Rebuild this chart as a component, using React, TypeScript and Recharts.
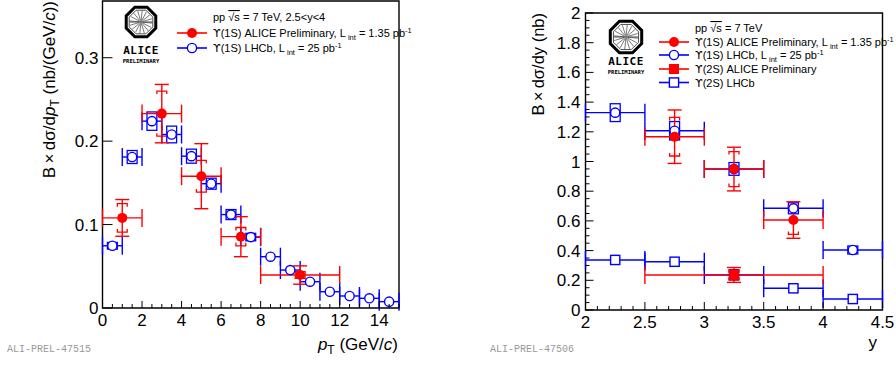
import React from 'react';
import { ComposedChart, Scatter, XAxis, YAxis, ErrorBar, ReferenceArea } from 'recharts';

const RED = '#ff0000';
const BLUE = '#0000ff';
const FONT = '"Liberation Sans", Arial, Helvetica, sans-serif';

// ---------- Left panel: pT spectrum ----------
const ptAliceX = [1, 3, 5, 7, 10];
const ptAliceY = [0.108, 0.233, 0.158, 0.0855, 0.0395];
const ptAliceXErr = [1, 1, 1, 1, 2];
const ptAliceStat = [0.022, 0.035, 0.039, 0.024, 0.011];
const ptAliceSyst = [0.017, 0.027, 0.019, 0.011, 0.004];

const ptLhcbX = [0.5, 1.5, 2.5, 3.5, 4.5, 5.5, 6.5, 7.5, 8.5, 9.5, 10.5, 11.5, 12.5, 13.5, 14.5];
const ptLhcbY = [0.0746, 0.181, 0.224, 0.208, 0.182, 0.149, 0.112, 0.085, 0.0615, 0.0455, 0.0315, 0.0195, 0.0144, 0.0116, 0.0076];
const ptLhcbXErr = [0.5, 0.5, 0.5, 0.5, 0.5, 0.5, 0.5, 0.5, 0.5, 0.5, 0.5, 0.5, 0.5, 0.5, 0.5];
const ptLhcbSyst = [0.004, 0.0078, 0.011, 0.01, 0.0084, 0.0066, 0.006, 0.0045, 0, 0, 0, 0, 0, 0, 0];

const ptMajorTicks = [0, 2, 4, 6, 8, 10, 12, 14];
const ptYMajorTicks = [0, 0.1, 0.2, 0.3];

// ---------- Right panel: rapidity ----------
const yAlice1sX = [2.75, 3.25, 3.75];
const yAlice1sY = [1.167, 0.949, 0.606];
const yAlice1sXErr = [0.25, 0.25, 0.25];
const yAlice1sStat = [0.18, 0.147, 0.123];
const yAlice1sSyst = [0.13, 0.118, 0.097];

const yLhcb1sX = [2.25, 2.75, 3.25, 3.75, 4.25];
const yLhcb1sY = [1.329, 1.207, 0.95, 0.685, 0.404];
const yLhcb1sXErr = [0.25, 0.25, 0.25, 0.25, 0.25];
const yLhcb1sSyst = [0.06, 0.062, 0.043, 0.037, 0.027];

const yAlice2sX = [3.25];
const yAlice2sY = [0.236];
const yAlice2sXErr = [0.75];
const yAlice2sStat = [0.05];
const yAlice2sSyst = [0.035];

const yLhcb2sX = [2.25, 2.75, 3.25, 3.75, 4.25];
const yLhcb2sY = [0.337, 0.325, 0.236, 0.146, 0.074];
const yLhcb2sXErr = [0.25, 0.25, 0.25, 0.25, 0.25];

const yMajorTicks = [2, 2.5, 3, 3.5, 4, 4.5];
const yYMajorTicks = [0, 0.2, 0.4, 0.6, 0.8, 1, 1.2, 1.4, 1.6, 1.8, 2];

// minor tick positions (axis decoration only)
const steps = (a: number, b: number, s: number) => {
  const out: number[] = [];
  const n = Math.round((b - a) / s);
  for (let i = 0; i <= n; i++) out.push(Number((a + i * s).toFixed(4)));
  return out;
};

const mk = (xs: number[], ys: number[], ex: number[], ey?: number[]) =>
  xs.map((x, i) => ({ x, y: ys[i], ex: ex[i], ey: ey ? ey[i] : 0 }));

const isIn = (arr: number[], v: number) => arr.some((m) => Math.abs(m - v) < 1e-6);
const fmt = (v: number) => String(Number(v.toFixed(2)));

const makeXTick = (majors: number[], majorLen: number, minorLen: number) => (props: any) => {
  const { x, y, payload } = props;
  const v = payload.value;
  const major = isIn(majors, v);
  return (
    <g>
      <line x1={x} x2={x} y1={y} y2={y - (major ? majorLen : minorLen)} stroke="#000" strokeWidth={1} />
      {major && (
        <text x={x} y={y + 18} textAnchor="middle" fontSize={17} fontFamily={FONT} fill="#000">
          {fmt(v)}
        </text>
      )}
    </g>
  );
};

const makeYTick = (majors: number[], majorLen: number, minorLen: number, gap: number) => (props: any) => {
  const { x, y, payload } = props;
  const v = payload.value;
  const major = isIn(majors, v);
  return (
    <g>
      <line x1={x} x2={x + (major ? majorLen : minorLen)} y1={y} y2={y} stroke="#000" strokeWidth={1} />
      {major && (
        <text x={x - gap} y={y + 6} textAnchor="end" fontSize={17} fontFamily={FONT} fill="#000">
          {fmt(v)}
        </text>
      )}
    </g>
  );
};

const FilledCircle = (p: any) => <circle cx={p.cx} cy={p.cy} r={5} fill={RED} />;
const OpenCircle = (p: any) => <circle cx={p.cx} cy={p.cy} r={4.6} fill="#fff" stroke={BLUE} strokeWidth={1.4} />;
const FilledSquare = (p: any) => <rect x={p.cx - 5} y={p.cy - 5} width={10} height={10} fill={RED} />;
const OpenSquare = (p: any) => (
  <rect x={p.cx - 4.6} y={p.cy - 4.6} width={9.2} height={9.2} fill="#fff" stroke={BLUE} strokeWidth={1.4} />
);

const Bracket = (color: string) => (p: any) => {
  const { x, y, width, height } = p;
  const t = 3;
  return (
    <path
      d={`M${x},${y + t} V${y} H${x + width} V${y + t} M${x},${y + height - t} V${y + height} H${x + width} V${y + height - t}`}
      fill="none"
      stroke={color}
      strokeWidth={1.3}
    />
  );
};

const Box = (color: string) => (p: any) => (
  <rect x={p.x} y={p.y} width={p.width} height={p.height} fill="none" stroke={color} strokeWidth={1.3} />
);

const sysAreas = (
  xs: number[],
  ys: number[],
  sy: number[],
  hw: number,
  shape: any,
  key: string
) =>
  xs.map((x, i) =>
    sy[i] > 0 ? (
      <ReferenceArea
        key={key + i}
        x1={x - hw}
        x2={x + hw}
        y1={ys[i] - sy[i]}
        y2={ys[i] + sy[i]}
        shape={shape}
        ifOverflow="visible"
      />
    ) : null
  );

const LeftChart = () => {
  const alice = mk(ptAliceX, ptAliceY, ptAliceXErr, ptAliceStat);
  const lhcb = mk(ptLhcbX, ptLhcbY, ptLhcbXErr);
  return (
    <ComposedChart width={448} height={367} margin={{ top: 1, right: 49, bottom: 29, left: 42.5 }}>
      <XAxis
        type="number"
        dataKey="x"
        domain={[0, 15]}
        ticks={steps(0, 15, 0.5)}
        interval={0}
        allowDataOverflow
        axisLine={false}
        tickLine={false}
        tickSize={0}
        tickMargin={0}
        height={30}
        tick={makeXTick(ptMajorTicks, 7, 4)}
      />
      <YAxis
        type="number"
        dataKey="y"
        domain={[0, 0.368]}
        ticks={ptYMajorTicks}
        interval={0}
        allowDataOverflow
        axisLine={false}
        tickLine={false}
        tickSize={0}
        tickMargin={0}
        width={60}
        tick={makeYTick(ptYMajorTicks, 10, 5, 4)}
      />
      <ReferenceArea x1={0} x2={15} y1={0} y2={0.368} fill="none" stroke="#000" strokeWidth={1.4} ifOverflow="visible" />
      {sysAreas(ptLhcbX, ptLhcbY, ptLhcbSyst, 0.25, Box(BLUE), 'lb')}
      <Scatter data={lhcb} isAnimationActive={false} shape={OpenCircle}>
        <ErrorBar dataKey="ex" direction="x" stroke={BLUE} strokeWidth={1.4} width={9} />
      </Scatter>
      {sysAreas(ptAliceX, ptAliceY, ptAliceSyst, 0.25, Bracket(RED), 'ab')}
      <Scatter data={alice} isAnimationActive={false} shape={FilledCircle}>
        <ErrorBar dataKey="ex" direction="x" stroke={RED} strokeWidth={1.4} width={9} />
        <ErrorBar dataKey="ey" direction="y" stroke={RED} strokeWidth={1.4} width={7} />
      </Scatter>
    </ComposedChart>
  );
};

const RightChart = () => {
  const a1 = mk(yAlice1sX, yAlice1sY, yAlice1sXErr, yAlice1sStat);
  const l1 = mk(yLhcb1sX, yLhcb1sY, yLhcb1sXErr);
  const a2 = mk(yAlice2sX, yAlice2sY, yAlice2sXErr, yAlice2sStat);
  const l2 = mk(yLhcb2sX, yLhcb2sY, yLhcb2sXErr);
  return (
    <ComposedChart width={448} height={367} margin={{ top: 13, right: 13.5, bottom: 27, left: 77.5 }}>
      <XAxis
        type="number"
        dataKey="x"
        domain={[2, 4.5]}
        ticks={steps(2, 4.5, 0.1)}
        interval={0}
        allowDataOverflow
        axisLine={false}
        tickLine={false}
        tickSize={0}
        tickMargin={0}
        height={30}
        tick={makeXTick(yMajorTicks, 8, 4)}
      />
      <YAxis
        type="number"
        dataKey="y"
        domain={[0, 2]}
        ticks={steps(0, 2, 0.05)}
        interval={0}
        allowDataOverflow
        axisLine={false}
        tickLine={false}
        tickSize={0}
        tickMargin={0}
        width={60}
        tick={makeYTick(yYMajorTicks, 8, 4, 5)}
      />
      <ReferenceArea x1={2} x2={4.5} y1={0} y2={2} fill="none" stroke="#000" strokeWidth={1.4} ifOverflow="visible" />
      {sysAreas(yLhcb1sX, yLhcb1sY, yLhcb1sSyst, 0.042, Box(BLUE), 'l1')}
      <Scatter data={l2} isAnimationActive={false} shape={OpenSquare}>
        <ErrorBar dataKey="ex" direction="x" stroke={BLUE} strokeWidth={1.4} width={9} />
      </Scatter>
      <Scatter data={l1} isAnimationActive={false} shape={OpenCircle}>
        <ErrorBar dataKey="ex" direction="x" stroke={BLUE} strokeWidth={1.4} width={9} />
      </Scatter>
      {sysAreas(yAlice2sX, yAlice2sY, yAlice2sSyst, 0.042, Bracket(RED), 'a2')}
      <Scatter data={a2} isAnimationActive={false} shape={FilledSquare}>
        <ErrorBar dataKey="ex" direction="x" stroke={RED} strokeWidth={1.4} width={9} />
        <ErrorBar dataKey="ey" direction="y" stroke={RED} strokeWidth={1.4} width={7} />
      </Scatter>
      {sysAreas(yAlice1sX, yAlice1sY, yAlice1sSyst, 0.042, Bracket(RED), 'a1')}
      <Scatter data={a1} isAnimationActive={false} shape={FilledCircle}>
        <ErrorBar dataKey="ex" direction="x" stroke={RED} strokeWidth={1.4} width={9} />
        <ErrorBar dataKey="ey" direction="y" stroke={RED} strokeWidth={1.4} width={7} />
      </Scatter>
    </ComposedChart>
  );
};

const Logo = ({ cx, cy, r }: { cx: number; cy: number; r: number }) => {
  const oct = (rr: number) =>
    Array.from({ length: 8 }, (_, i) => {
      const a = ((i + 0.5) * Math.PI) / 4;
      return `${cx + rr * Math.cos(a)},${cy + rr * Math.sin(a)}`;
    }).join(' ');
  const spokes = Array.from({ length: 16 }, (_, i) => {
    const a = (i * Math.PI) / 8 + 0.1;
    return (
      <line
        key={i}
        x1={cx + 2 * Math.cos(a)}
        y1={cy + 2 * Math.sin(a)}
        x2={cx + r * 0.72 * Math.cos(a)}
        y2={cy + r * 0.72 * Math.sin(a)}
        stroke="#555"
        strokeWidth={0.8}
      />
    );
  });
  return (
    <g>
      <polygon points={oct(r)} fill="#fff" stroke="#000" strokeWidth={3} />
      <polygon points={oct(r * 0.8)} fill="none" stroke="#000" strokeWidth={0.7} />
      {spokes}
      <line x1={cx - r * 0.72} x2={cx + r * 0.72} y1={cy} y2={cy} stroke="#444" strokeWidth={1} />
      <circle cx={cx} cy={cy} r={2} fill="#777" />
    </g>
  );
};

const UPS = () => <tspan fontFamily='"DejaVu Sans", sans-serif'>ϒ</tspan>;

const LegendRow = ({
  y,
  x0,
  color,
  marker,
  children,
}: {
  y: number;
  x0: number;
  color: string;
  marker: string;
  children: any;
}) => {
  const mx = x0 + 15;
  let m: any = null;
  if (marker === 'fc') m = <circle cx={mx} cy={y} r={5} fill={color} />;
  if (marker === 'oc') m = <circle cx={mx} cy={y} r={4.6} fill="#fff" stroke={color} strokeWidth={1.4} />;
  if (marker === 'fs') m = <rect x={mx - 5} y={y - 5} width={10} height={10} fill={color} />;
  if (marker === 'os') m = <rect x={mx - 4.6} y={y - 4.6} width={9.2} height={9.2} fill="#fff" stroke={color} strokeWidth={1.4} />;
  return (
    <g>
      <line x1={x0} x2={x0 + 30} y1={y} y2={y} stroke={color} strokeWidth={1.6} />
      {m}
      <text x={x0 + 36} y={y + 4} fontSize={11} fontFamily={FONT} fill="#000">
        {children}
      </text>
    </g>
  );
};

const Lint = ({ v }: { v: string }) => (
  <>
    {', L'}
    <tspan dy={3} fontSize={7.5}>
      {' int'}
    </tspan>
    <tspan dy={-3}>{` = ${v} pb`}</tspan>
    <tspan dy={-4} fontSize={7.5}>
      -1
    </tspan>
    <tspan dy={4}> </tspan>
  </>
);

const Overlay = () => (
  <svg width={896} height={367} style={{ position: 'absolute', left: 0, top: 0, pointerEvents: 'none' }}>
    {/* Left logo */}
    <Logo cx={141} cy={22} r={16} />
    <text x={141} y={54} textAnchor="middle" fontSize={11} fontWeight="bold" fontFamily='"DejaVu Sans Mono", monospace' letterSpacing={0.5}>
      ALICE
    </text>
    <text x={141} y={63} textAnchor="middle" fontSize={5.5} fontWeight="bold" fontFamily='"DejaVu Sans Mono", monospace'>
      PRELIMINARY
    </text>
    {/* Left legend */}
    <text x={213} y={21} fontSize={11} fontFamily={FONT}>
      pp <tspan textDecoration="overline">√s</tspan> = 7 TeV, 2.5&lt;y&lt;4
    </text>
    <LegendRow y={33} x0={177} color={RED} marker="fc">
      <UPS />
      (1S) ALICE Preliminary
      <Lint v="1.35" />
    </LegendRow>
    <LegendRow y={48} x0={177} color={BLUE} marker="oc">
      <UPS />
      (1S) LHCb
      <Lint v="25" />
    </LegendRow>

    {/* Right logo */}
    <Logo cx={626} cy={37} r={17} />
    <text x={626} y={65} textAnchor="middle" fontSize={11} fontWeight="bold" fontFamily='"DejaVu Sans Mono", monospace' letterSpacing={0.5}>
      ALICE
    </text>
    <text x={626} y={74} textAnchor="middle" fontSize={5.5} fontWeight="bold" fontFamily='"DejaVu Sans Mono", monospace'>
      PRELIMINARY
    </text>
    {/* Right legend */}
    <text x={695} y={32} fontSize={11} fontFamily={FONT}>
      pp <tspan textDecoration="overline">√s</tspan> = 7 TeV
    </text>
    <LegendRow y={42} x0={659} color={RED} marker="fc">
      <UPS />
      (1S) ALICE Preliminary
      <Lint v="1.35" />
    </LegendRow>
    <LegendRow y={55} x0={659} color={BLUE} marker="oc">
      <UPS />
      (1S) LHCb
      <Lint v="25" />
    </LegendRow>
    <LegendRow y={69} x0={659} color={RED} marker="fs">
      <UPS />
      (2S) ALICE Preliminary
    </LegendRow>
    <LegendRow y={82.5} x0={659} color={BLUE} marker="os">
      <UPS />
      (2S) LHCb
    </LegendRow>

    {/* Axis titles */}
    <text transform="translate(55,1) rotate(-90)" textAnchor="end" fontSize={17} fontFamily={FONT}>
      B{'\u2009×\u2009'}dσ/d<tspan fontStyle="italic">p</tspan>
      <tspan dy={4} fontSize={12}>T</tspan>
      <tspan dy={-4}> (nb/(GeV/</tspan>
      <tspan fontStyle="italic">c</tspan>))
    </text>
    <text x={398} y={350} textAnchor="end" fontSize={17} fontFamily={FONT}>
      <tspan fontStyle="italic">p</tspan>
      <tspan dy={4} fontSize={12}>T</tspan>
      <tspan dy={-4}> (GeV/</tspan>
      <tspan fontStyle="italic">c</tspan>)
    </text>
    <text transform="translate(544,13) rotate(-90)" textAnchor="end" fontSize={16.5} fontFamily={FONT}>
      B{'\u2009×\u2009'}dσ/dy (nb)
    </text>
    <text x={877} y={348} textAnchor="end" fontSize={17} fontFamily={FONT}>
      y
    </text>

    {/* Watermarks */}
    <text x={7} y={352} fontSize={10} fontFamily='"Liberation Mono", "DejaVu Sans Mono", monospace' fill="#999">
      ALI-PREL-47515
    </text>
    <text x={490} y={352} fontSize={10} fontFamily='"Liberation Mono", "DejaVu Sans Mono", monospace' fill="#999">
      ALI-PREL-47506
    </text>
  </svg>
);

export default function App() {
  return (
    <div style={{ position: 'absolute', left: 0, top: 0, width: 896, height: 367, background: '#fff', fontFamily: FONT }}>
      <div style={{ position: 'absolute', left: 0, top: 0 }}>
        <LeftChart />
      </div>
      <div style={{ position: 'absolute', left: 448, top: 0 }}>
        <RightChart />
      </div>
      <Overlay />
    </div>
  );
}
